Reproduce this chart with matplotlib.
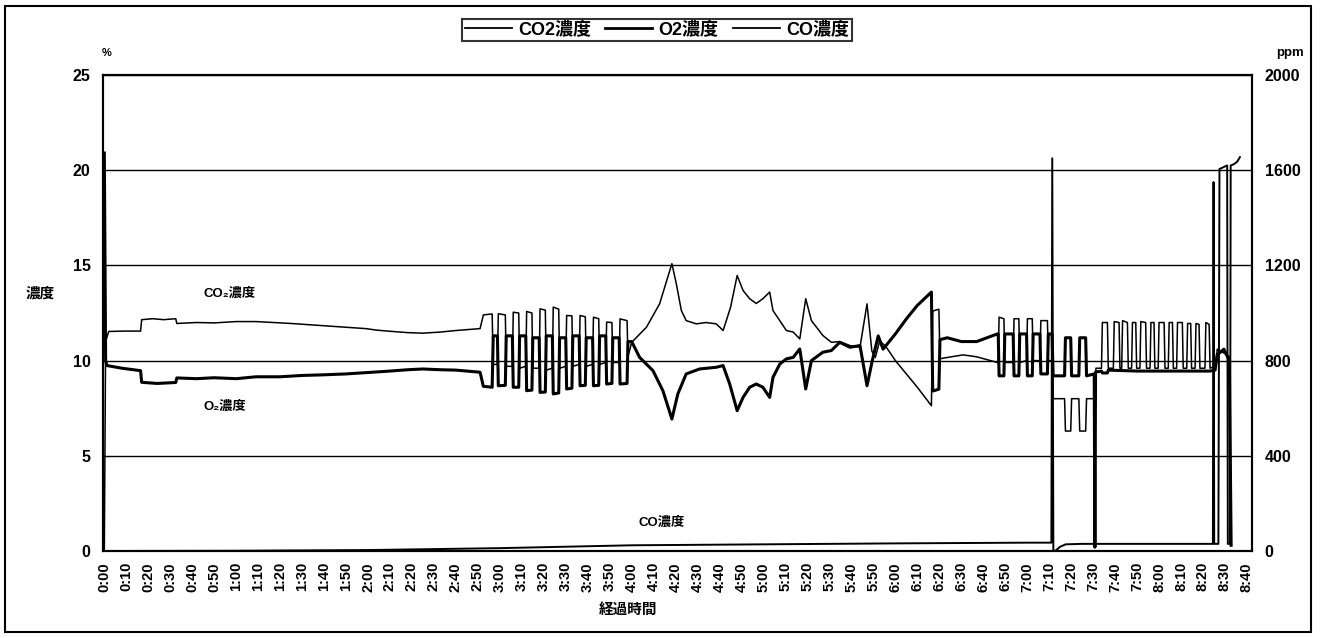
import matplotlib
matplotlib.use("Agg")
import matplotlib.pyplot as plt
from matplotlib.patches import Rectangle

plt.rcParams["font.family"] = ["Liberation Sans", "Noto Sans CJK JP", "DejaVu Sans"]
plt.rcParams["font.weight"] = "bold"

# (elapsed minutes, %)
co2_points = [
    (0.0, 0.0), (0.6, 11.0), (2.0, 11.53), (9, 11.55), (16.5, 11.55), (17.0, 12.15),
    (22, 12.2), (27, 12.15), (32.5, 12.2), (33.0, 11.95), (42, 12.0), (50, 11.98),
    (60, 12.05), (69, 12.05), (77, 12.0), (85, 11.95), (99, 11.84), (110, 11.75),
    (119, 11.68), (124, 11.6), (130, 11.54), (138, 11.47), (145, 11.44), (153, 11.5),
    (160, 11.58), (171, 11.68), (172.5, 12.4), (176.5, 12.45), (177.0, 9.8),
    (178.9, 9.8), (179.3, 12.46), (182.5, 12.4), (182.9, 9.7),
    (185.7, 9.7), (186.1, 12.54), (188.6, 12.5), (189.0, 9.6),
    (191.8, 9.7), (192.2, 12.58), (194.6, 12.5), (195.0, 9.6),
    (197.9, 9.6), (198.3, 12.72), (200.7, 12.65), (201.1, 9.5),
    (203.9, 9.6), (204.3, 12.81), (206.8, 12.7), (207.2, 9.6),
    (210.0, 9.7), (210.4, 12.37), (212.8, 12.35), (213.2, 9.7),
    (216.1, 9.8), (216.5, 12.37), (218.9, 12.3), (219.3, 9.7),
    (222.2, 9.8), (222.6, 12.28), (225.0, 12.2), (225.4, 9.8),
    (228.2, 9.9), (228.6, 12.02), (231.0, 12.0), (231.4, 9.9),
    (234.3, 9.9), (234.7, 12.19), (237.9, 12.1), (238.3, 10.2),
    (240.0, 10.96), (246.7, 11.75), (252.7, 12.98), (258.3, 15.09), (260.3, 14.04),
    (262.6, 12.63), (264.8, 12.1), (269.4, 11.93), (273.9, 12.0), (278.5, 11.93),
    (281.6, 11.58), (285.0, 12.8), (288.0, 14.47), (290.7, 13.68), (293.7, 13.25),
    (296.7, 13.0), (299.7, 13.25), (302.8, 13.6), (304.3, 12.63), (307.4, 12.1),
    (310.4, 11.58), (313.5, 11.5), (316.5, 11.14), (319.2, 13.25), (321.8, 12.1),
    (327.0, 11.32), (330.9, 10.96), (334.7, 11.0), (339.3, 10.79), (343.9, 10.7),
    (347.1, 12.98), (349.3, 10.5), (350.9, 10.17), (352.9, 11.05), (355.9, 10.7),
    (360.0, 10.0), (365.0, 9.3), (370.0, 8.6), (376.4, 7.63), (377.0, 12.6),
    (379.8, 12.7), (380.3, 10.1), (390.8, 10.3), (397.0, 10.2), (406.4, 9.9),
    (406.8, 9.9), (407.2, 12.28), (409.4, 12.2), (409.8, 9.9),
    (413.6, 9.9), (414.0, 12.2), (416.2, 12.2), (416.6, 9.9),
    (419.7, 10.0), (420.1, 12.2), (422.3, 12.2), (422.7, 10.0),
    (425.8, 10.0), (426.2, 12.1), (429.2, 12.1), (429.6, 10.0),
    (431.3, 10.0), (431.8, 8.0), (437.0, 8.0), (437.4, 6.3), (439.8, 6.3), (440.2, 8.0),
    (443.5, 8.0), (443.9, 6.3), (446.6, 6.3), (447.0, 8.0), (450.5, 8.0), (451.3, 9.6),
    (453.8, 9.6), (454.2, 12.0), (456.5, 12.0), (456.9, 9.6),
    (459.2, 9.6), (459.6, 12.05), (461.8, 12.0), (462.2, 9.6),
    (463.0, 9.6), (463.4, 12.1), (465.6, 12.0), (466.0, 9.6),
    (467.5, 9.6), (467.9, 12.0), (469.4, 12.0), (469.8, 9.6),
    (471.3, 9.6), (471.7, 12.05), (473.9, 12.0), (474.3, 9.6),
    (475.9, 9.6), (476.3, 12.0), (477.7, 12.0), (478.1, 9.6),
    (479.6, 9.6), (480.0, 12.0), (482.3, 12.0), (482.7, 9.6),
    (484.2, 9.6), (484.6, 12.0), (486.1, 12.0), (486.5, 9.6),
    (488.0, 9.6), (488.4, 12.0), (490.6, 12.0), (491.0, 9.6),
    (492.6, 9.6), (493.0, 11.95), (494.4, 11.95), (494.8, 9.6),
    (496.4, 9.6), (496.8, 11.95), (498.2, 11.9), (498.6, 9.6),
    (500.9, 9.6), (501.3, 12.0), (502.8, 11.9), (503.2, 9.6),
    (505.5, 9.7), (506.5, 10.6), (509.5, 10.4), (512.0, 10.2), (512.8, 0.3),
]

o2_points = [
    (0.0, 20.9), (0.6, 10.0), (1.2, 9.74), (8, 9.6), (16.5, 9.47), (17.0, 8.86),
    (24, 8.8), (32.5, 8.85), (33.0, 9.09), (42, 9.05), (50, 9.1), (60, 9.05),
    (69, 9.15), (80, 9.15), (90, 9.22), (99, 9.25), (110, 9.3), (122, 9.39),
    (130, 9.45), (138, 9.52), (145, 9.56), (153, 9.52), (160, 9.5), (171, 9.39),
    (172.5, 8.65), (176.5, 8.6), (177.0, 11.3),
    (178.9, 11.3), (179.3, 8.68), (182.5, 8.7), (182.9, 11.3),
    (185.7, 11.3), (186.1, 8.6), (188.6, 8.6), (189.0, 11.3),
    (191.8, 11.3), (192.2, 8.42), (194.6, 8.45), (195.0, 11.2),
    (197.9, 11.2), (198.3, 8.33), (200.7, 8.35), (201.1, 11.3),
    (203.9, 11.3), (204.3, 8.25), (206.8, 8.3), (207.2, 11.2),
    (210.0, 11.2), (210.4, 8.51), (212.8, 8.55), (213.2, 11.3),
    (216.1, 11.3), (216.5, 8.68), (218.9, 8.7), (219.3, 11.2),
    (222.2, 11.2), (222.6, 8.68), (225.0, 8.7), (225.4, 11.3),
    (228.2, 11.3), (228.6, 8.77), (231.0, 8.8), (231.4, 11.2),
    (234.3, 11.2), (234.7, 8.77), (237.9, 8.8), (238.3, 11.0),
    (240.0, 11.0), (243.6, 10.17), (249.7, 9.47), (254.2, 8.42), (258.3, 6.93),
    (261.0, 8.25), (264.8, 9.3), (270.9, 9.56), (278.5, 9.65), (281.6, 9.74),
    (284.6, 8.77), (288.0, 7.37), (290.7, 8.07), (293.7, 8.6), (296.7, 8.77),
    (299.7, 8.6), (302.8, 8.07), (304.3, 9.12), (307.4, 9.82), (310.4, 10.09),
    (313.5, 10.17), (316.5, 10.61), (319.2, 8.51), (321.8, 10.0), (327.0, 10.44),
    (330.9, 10.53), (334.7, 10.96), (339.3, 10.7), (343.9, 10.79), (347.1, 8.68),
    (349.5, 10.0), (352.2, 11.3), (354.4, 10.6), (360.0, 11.4), (365.0, 12.19),
    (370.0, 12.9), (376.4, 13.6), (377.0, 8.4), (379.8, 8.5), (380.3, 11.1),
    (383.6, 11.2), (390.0, 11.0), (397.0, 11.0), (406.4, 11.4),
    (406.8, 11.4), (407.2, 9.2), (409.4, 9.2), (409.8, 11.4),
    (413.6, 11.4), (414.0, 9.2), (416.2, 9.2), (416.6, 11.4),
    (419.7, 11.4), (420.1, 9.2), (422.3, 9.2), (422.7, 11.4),
    (425.8, 11.4), (426.2, 9.3), (429.2, 9.3), (429.6, 11.4),
    (431.3, 11.4), (431.8, 9.2), (437.0, 9.2), (437.4, 11.2), (439.8, 11.2), (440.2, 9.2),
    (443.5, 9.2), (443.9, 11.2), (446.6, 11.2), (447.0, 9.2), (450.5, 9.3),
    (450.8, 0.2), (451.1, 9.4), (453.8, 9.45), (454.2, 9.35), (456.5, 9.35),
    (456.9, 9.5), (470, 9.45), (485, 9.45), (503.2, 9.45), (505.5, 9.5),
    (506.5, 10.3), (509.5, 10.6), (512.0, 10.0), (512.8, 0.3),
]

# (elapsed minutes, ppm)
co_points = [
    (0, 0), (60, 1), (120, 4), (180, 12), (210, 18), (240, 24), (300, 28),
    (360, 32), (420, 35), (431.0, 35), (431.4, 1650), (431.9, 0), (433, 2),
    (435, 18), (437.5, 28), (445, 30), (504.5, 30), (504.8, 1550), (505.1, 30),
    (507.0, 30), (507.5, 1605), (511.0, 1620), (511.3, 30), (512.3, 30),
    (512.6, 1620), (514.0, 1625), (515.5, 1635), (516.8, 1655),
]

pct_ticks = [0, 5, 10, 15, 20, 25]
ppm_ticks = [0, 400, 800, 1200, 1600, 2000]
time_ticks = list(range(0, 521, 10))
time_labels = [f"{m // 60}:{m % 60:02d}" for m in time_ticks]

W, H = 1320, 638
fig = plt.figure(figsize=(W / 100, H / 100), dpi=100)
ax = fig.add_axes([103 / W, (H - 551) / H, (1252 - 103) / W, (551 - 75) / H])
ax2 = ax.twinx()

t, v = zip(*co2_points)
l1, = ax.plot(t, v, color="black", lw=1.1, label="CO2濃度")
t, v = zip(*o2_points)
l2, = ax.plot(t, v, color="black", lw=2.2, label="O2濃度")
t, v = zip(*co_points)
l3, = ax2.plot(t, v, color="black", lw=1.4, label="CO濃度")

ax.set_xlim(-0.6, 522.3)
ax.set_ylim(0, 25)
ax2.set_ylim(0, 2000)
ax.set_yticks(pct_ticks)
ax2.set_yticks(ppm_ticks)
ax.set_xticks(time_ticks)
ax.set_xticklabels(time_labels, rotation=90, fontsize=10.5, fontweight="bold")
ax.yaxis.grid(True, color="black", lw=1.0)
ax.tick_params(axis="both", length=0)
ax.tick_params(axis="y", labelsize=11.5, pad=9)
ax.tick_params(axis="x", pad=8)
ax2.tick_params(axis="y", length=0, labelsize=11.5, pad=9)
for a in (ax, ax2):
    for s in a.spines.values():
        s.set_linewidth(1.5)

# in-plot series captions
ax.text(57, 13.5, "CO₂濃度", fontsize=9.5, ha="center", va="center")
ax.text(55, 7.6, "O₂濃度", fontsize=9.5, ha="center", va="center")
ax.text(253.6, 1.5, "CO濃度", fontsize=9.5, ha="center", va="center")

fig.text(107 / W, 1 - 53 / H, "%", fontsize=8, ha="center", va="center")
fig.text(1290 / W, 1 - 53 / H, "ppm", fontsize=9.5, ha="center", va="center")
fig.text(40 / W, 1 - 294 / H, "濃度", fontsize=10.5, ha="center", va="center")
fig.text(628 / W, 1 - 610 / H, "経過時間", fontsize=10.5, ha="center", va="center")

leg = fig.legend([l1, l2, l3], ["CO2濃度", "O2濃度", "CO濃度"], loc="center",
                 bbox_to_anchor=(657 / W, 1 - 30 / H), ncol=3, fontsize=13,
                 frameon=True, fancybox=False, edgecolor="black",
                 borderpad=0.15, handlelength=2.6, handletextpad=0.35,
                 columnspacing=0.8, borderaxespad=0)
leg.get_frame().set_linewidth(1.5)
for h, w in zip(leg.get_lines(), (1.3, 2.0, 1.3)):
    h.set_linewidth(w)

fig.patches.append(Rectangle((5 / W, 6 / H), (1311 - 5) / W, (632 - 6) / H,
                             transform=fig.transFigure, fill=False,
                             edgecolor="black", lw=1.5))

fig.savefig("out.png", dpi=100)
